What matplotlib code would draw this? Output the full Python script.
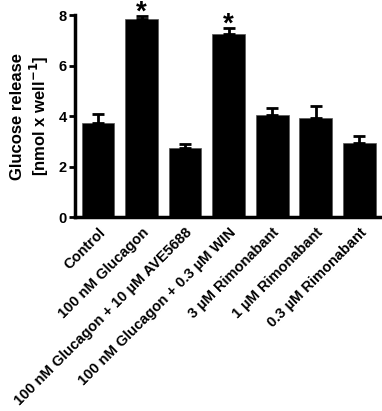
import matplotlib
matplotlib.use('Agg')
from matplotlib import pyplot as plt

plt.rcParams['font.family'] = ['Liberation Sans', 'DejaVu Sans']
plt.rcParams['font.weight'] = 'bold'

groups = ['Control', '100 nM Glucagon', '100 nM Glucagon + 10 µM AVE5688',
          '100 nM Glucagon + 0.3 µM WIN', '3 µM Rimonabant', '1 µM Rimonabant',
          '0.3 µM Rimonabant']
means = [3.73, 7.83, 2.74, 7.23, 4.03, 3.93, 2.92]
errors = [0.36, 0.15, 0.17, 0.27, 0.27, 0.47, 0.28]
significant = [False, True, False, True, False, False, False]

fig = plt.figure(figsize=(3.82, 4.11), dpi=100)
ax = fig.add_axes([0.196, 0.472, 0.804, 0.4915])

x = range(len(groups))
ax.bar(x, means, width=0.75, color='black', edgecolor='#555555', linewidth=0.5,
       yerr=[[0] * len(errors), errors], capsize=4,
       error_kw={'elinewidth': 2, 'capthick': 2, 'ecolor': 'black'})

for i, flag in enumerate(significant):
    if flag:
        ax.text(i, means[i] + errors[i] + 0.12, '*', ha='center', va='center',
                fontsize=20, fontweight='bold', clip_on=False)

ax.set_xlim(-0.53, 6.52)
ax.set_ylim(0, 8)
ax.set_yticks([0, 2, 4, 6, 8])
ax.set_xticks(list(x))
ax.set_xticklabels(groups, rotation=45, ha='right', rotation_mode='anchor',
                   fontsize=10.5, fontweight='bold')
ax.tick_params(axis='x', length=0, pad=6)
ax.tick_params(axis='y', length=4, width=2, labelsize=10.5, pad=2)
for label in ax.get_yticklabels():
    label.set_fontweight('bold')

ax.set_ylabel('Glucose release\n[nmol x well$^{\\mathbf{-1}}$]', fontsize=12,
              fontweight='bold', labelpad=5)

ax.spines['top'].set_visible(False)
ax.spines['right'].set_visible(False)
ax.spines['left'].set_linewidth(2.5)
ax.spines['bottom'].set_linewidth(2.5)

fig.savefig('out.png', dpi=100)
